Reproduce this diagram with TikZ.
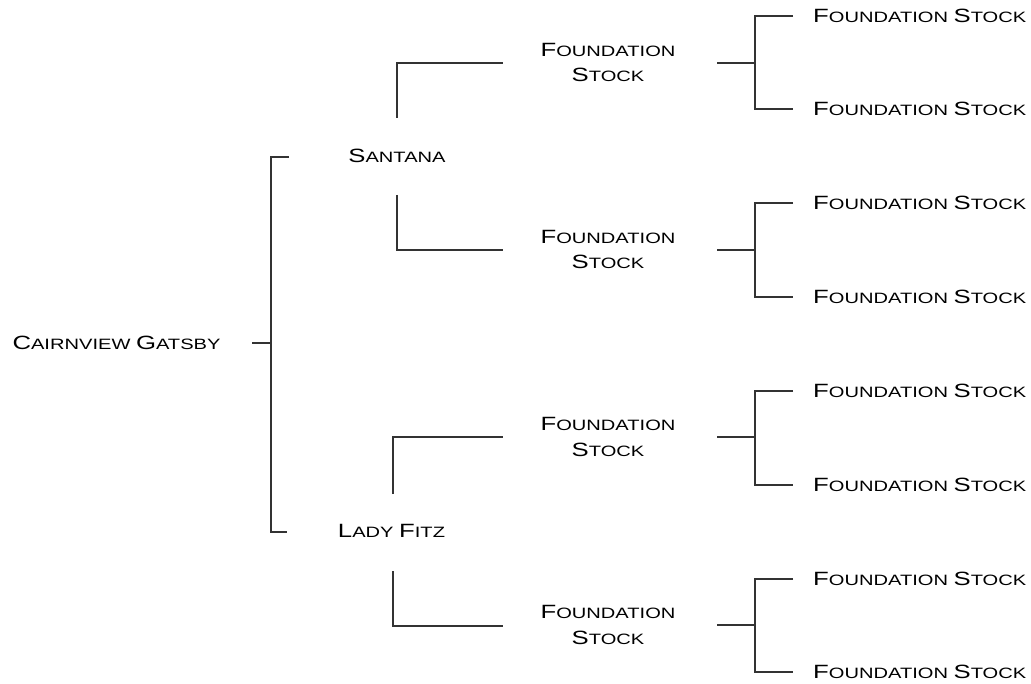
\documentclass[tikz,border=0pt]{standalone}
\usepackage{fontspec}
\setmainfont{Liberation Sans}[FakeStretch=1.34]
\newcommand\bgc[1]{{\fontsize{19.2}{25.5}\selectfont #1}}
\tikzset{
  lbl/.style={inner sep=0pt, text=black, font=\fontsize{15}{25.5}\selectfont, align=center},
  link/.style={draw=black!80, line width=1.4pt}
}
\begin{document}
\begin{tikzpicture}[x=1pt,y=-1pt]
\useasboundingbox (0,0) rectangle (1031,684);
% text nodes
\node[lbl] (root) at (116.5,343) {\bgc{C}AIRNVIEW \bgc{G}ATSBY};
\node[lbl] (san) at (397,156) {\bgc{S}ANTANA};
\node[lbl] (lady) at (391.5,531) {\bgc{L}ADY \bgc{F}ITZ};
\foreach \n/\y in {f1/62.5,f2/249.5,f3/437,f4/625}{
  \node[lbl] (\n) at (608,\y) {\bgc{F}OUNDATION\\\bgc{S}TOCK};
}
\foreach \n/\y in {g1/16,g2/109,g3/203,g4/297,g5/391,g6/485,g7/579,g8/672}{
  \node[lbl,anchor=west] (\n) at (813,\y) {\bgc{F}OUNDATION \bgc{S}TOCK};
}
% coordinates for connector ends
\coordinate (r0) at (252,343);
\coordinate (rj) at (271,343);
\coordinate (sa) at (289,157);
\coordinate (la) at (287,532);
\coordinate (s1) at (397,118);
\coordinate (s2) at (397,195);
\coordinate (l1) at (393,494);
\coordinate (l2) at (393,571);
\coordinate (f1e) at (503,63);
\coordinate (f2e) at (503,250);
\coordinate (f3e) at (503,437);
\coordinate (f4e) at (503,626);
% root bracket
\draw[link] (r0) -- (rj);
\draw[link] (sa) -- (271,157) -- (271,532) -- (la);
% parents to foundation
\draw[link] (s1) |- (f1e);
\draw[link] (s2) |- (f2e);
\draw[link] (l1) |- (f3e);
\draw[link] (l2) |- (f4e);
% foundation to grandparents
\foreach \y/\a/\b in {63/16/109, 250/203/297, 437/391/485, 625/579/672}{
  \draw[link] (717,\y) -- (755,\y);
  \draw[link] (793,\a) -- (755,\a) -- (755,\b) -- (793,\b);
}
\end{tikzpicture}
\end{document}
